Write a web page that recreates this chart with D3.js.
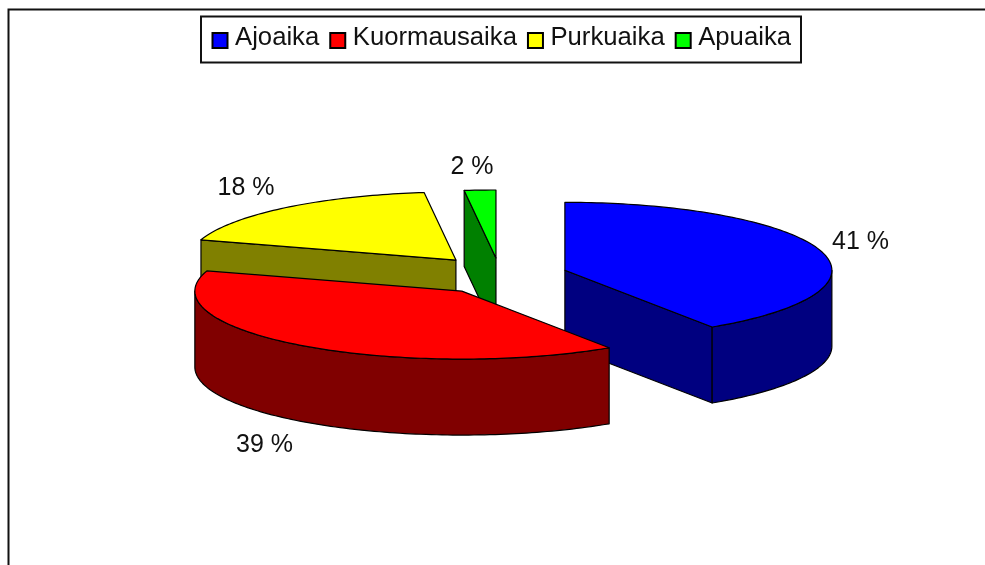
<!DOCTYPE html>
<html>
<head>
<meta charset="utf-8">
<script src="https://cdn.jsdelivr.net/npm/d3@7"></script>
<style>
  html, body { margin: 0; padding: 0; background: #fff; overflow: hidden; }
  svg { display: block; filter: blur(0.6px); }
  text { font-family: "Liberation Sans", Arial, sans-serif; fill: #111; }
</style>
</head>
<body>
<div id="chart"></div>
<script>
const categories = ["Ajoaika", "Kuormausaika", "Purkuaika", "Apuaika"];
const shares = [40.7, 39.1, 18.3, 1.9];
const topColors = ["#0000ff", "#ff0000", "#ffff00", "#00ff00"];
const wallColors = ["#000080", "#800000", "#808000", "#008000"];

// label offset from the rim point of each slice
const labelShiftX = [40, -37, -39, -8];
const labelShiftY = [-10, 98, -22, -25];

// small corrections on top of the explode, the original has some perspective
const nudgeX = [0, -3, -6.4, -3.6];
const nudgeY = [0, 3, -2.4, -0.7];

const width = 985, height = 565;
const center = {x: 503.4, y: 275};
const rx = 267, ry = 68;     // ellipse of the tilted pie
const depth = 76;            // thickness of the pie
const explode = 64.2;        // how far the slices are pulled out

const svg = d3.select("#chart").append("svg")
  .attr("width", width)
  .attr("height", height);

// chart frame, right and bottom sides fall outside the crop
svg.append("path")
  .attr("d", `M${width},9.5H8.5V${height}`)
  .attr("fill", "none")
  .attr("stroke", "#111")
  .attr("stroke-width", 2);

const pie = d3.pie().sort(null);
const line = d3.line();

// angle 0 is up, going clockwise
const rim = (o, a, z = 0) => [
  o.x + rx * Math.sin(a),
  o.y - ry * Math.cos(a) + z
];

const arcAngles = (a0, a1) => {
  const n = Math.max(2, Math.ceil((a1 - a0) / 0.02));
  return d3.range(n + 1).map(i => a0 + (a1 - a0) * i / n);
};

const slices = pie(shares).map((d, i) => {
  const mid = (d.startAngle + d.endAngle) / 2;
  return {
    ...d,
    i: i,
    mid: mid,
    apex: {
      x: center.x + explode * Math.sin(mid) + nudgeX[i],
      y: center.y - explode * (ry / rx) * Math.cos(mid) + nudgeY[i]
    }
  };
});

// back slices first, the slice closest to the viewer last
const ordered = slices.slice().sort((a, b) => a.apex.y - b.apex.y);

const pieG = svg.append("g");

function face(points, fill) {
  pieG.append("path")
    .attr("d", line(points) + "Z")
    .attr("fill", fill)
    .attr("stroke", "#000")
    .attr("stroke-width", 1.2)
    .attr("stroke-linejoin", "round");
}

ordered.forEach(s => {
  const o = s.apex;
  const wall = wallColors[s.i];
  const down = [o.x, o.y + depth];

  // cut face on the start side
  if (Math.cos(s.startAngle - Math.PI / 2) < 0) {
    face([[o.x, o.y], rim(o, s.startAngle), rim(o, s.startAngle, depth), down], wall);
  }
  // cut face on the end side
  if (Math.cos(s.endAngle + Math.PI / 2) < 0) {
    face([[o.x, o.y], rim(o, s.endAngle), rim(o, s.endAngle, depth), down], wall);
  }
  // outer wall, only the front half of the ellipse shows
  const a0 = Math.max(s.startAngle, Math.PI / 2);
  const a1 = Math.min(s.endAngle, Math.PI * 3 / 2);
  if (a1 > a0) {
    const angles = arcAngles(a0, a1);
    face(
      angles.map(a => rim(o, a)).concat(angles.slice().reverse().map(a => rim(o, a, depth))),
      wall
    );
  }
  // top of the slice
  face(
    [[o.x, o.y]].concat(arcAngles(s.startAngle, s.endAngle).map(a => rim(o, a))),
    topColors[s.i]
  );
});

// percent labels
svg.append("g").selectAll("text")
  .data(slices)
  .enter().append("text")
  .attr("x", d => rim(d.apex, d.mid)[0] + labelShiftX[d.i])
  .attr("y", d => rim(d.apex, d.mid)[1] + labelShiftY[d.i])
  .attr("dy", "0.35em")
  .attr("text-anchor", "middle")
  .attr("font-size", 25)
  .text(d => `${Math.round(shares[d.i])} %`);

// legend
const legend = svg.append("g");
legend.append("rect")
  .attr("x", 201).attr("y", 16.5)
  .attr("width", 600).attr("height", 46)
  .attr("fill", "#fff")
  .attr("stroke", "#111")
  .attr("stroke-width", 2);

let legendX = 212.5;
categories.forEach((name, i) => {
  legend.append("rect")
    .attr("x", legendX).attr("y", 33)
    .attr("width", 15).attr("height", 15)
    .attr("fill", topColors[i])
    .attr("stroke", "#000")
    .attr("stroke-width", 2);
  const label = legend.append("text")
    .attr("x", legendX + 22.5)
    .attr("y", 45)
    .attr("font-size", 25.7)
    .text(name);
  legendX += 22.5 + label.node().getComputedTextLength() + 11;
});
</script>
</body>
</html>
